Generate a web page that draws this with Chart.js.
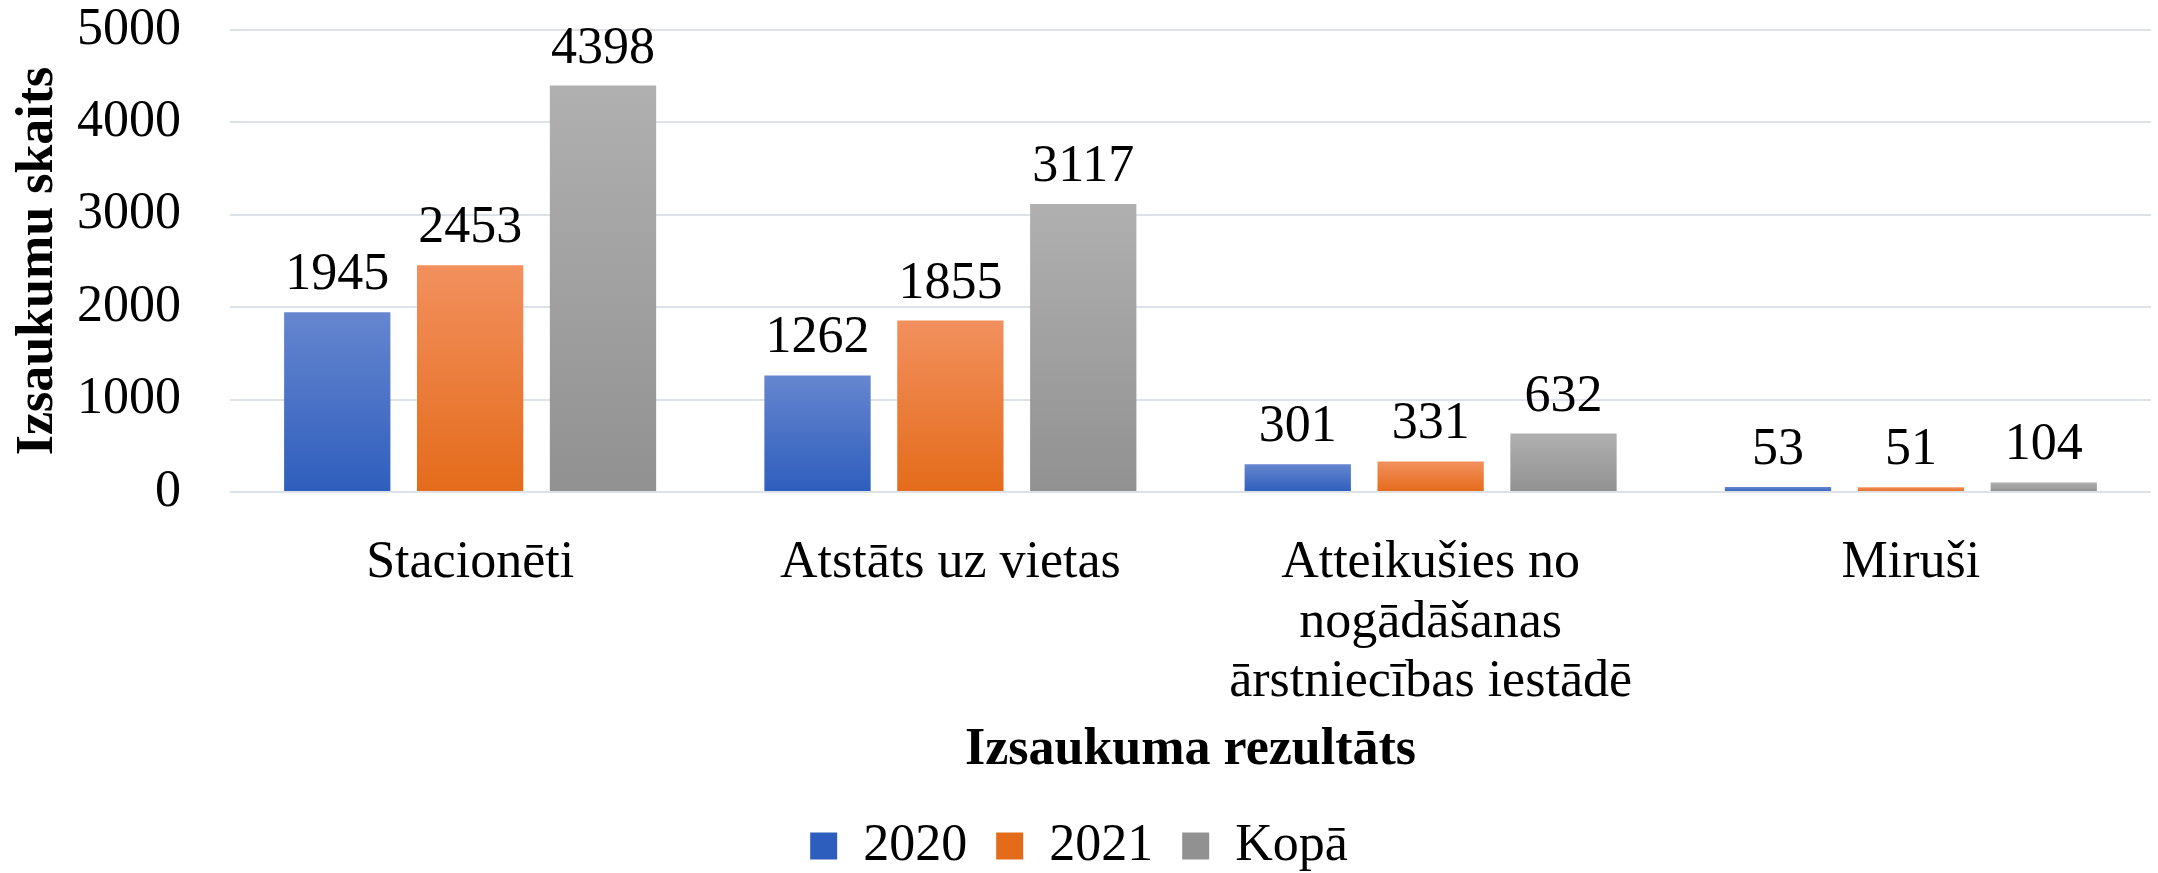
<!DOCTYPE html>
<html>
<head>
<meta charset="utf-8">
<script src="https://cdn.jsdelivr.net/npm/chart.js@4/dist/chart.umd.min.js"></script>
<style>
  html, body { margin: 0; padding: 0; background: #ffffff; }
  #wrap { width: 2158px; height: 873px; position: relative; }
</style>
</head>
<body>
<div id="wrap"><canvas id="c"></canvas></div>
<script>
const categories = [
  'Stacionēti',
  'Atstāts uz vietas',
  ['Atteikušies no', 'nogādāšanas', 'ārstniecības iestādē'],
  'Miruši'
];
const seriesNames = ['2020', '2021', 'Kopā'];
const values2020 = [1945, 1262, 301, 53];
const values2021 = [2453, 1855, 331, 51];
const valuesTotal = [4398, 3117, 632, 104];
const yTicks = [0, 1000, 2000, 3000, 4000, 5000];

const palettes = [
  { top: '#6686cf', bottom: '#2e5ebd', mid: '#4472c4' },
  { top: '#f2905e', bottom: '#e46b1a', mid: '#ed7d31' },
  { top: '#b0b0b0', bottom: '#919191', mid: '#a5a5a5' }
];

function barFill(p) {
  return (c) => {
    if (c.type !== 'data' || !c.chart.chartArea) return p.mid;
    const ys = c.chart.scales.y;
    if (!ys) return p.mid;
    const t = ys.getPixelForValue(c.raw);
    const b = ys.getPixelForValue(0);
    if (!isFinite(t) || !isFinite(b) || t === b) return p.mid;
    const g = c.chart.ctx.createLinearGradient(0, t, 0, b);
    g.addColorStop(0, p.top);
    g.addColorStop(1, p.bottom);
    return g;
  };
}

const FONT = "'Liberation Serif', 'Times New Roman', serif";

const dataLabels = {
  id: 'dataLabels',
  afterDatasetsDraw(chart) {
    const ctx = chart.ctx;
    ctx.save();
    ctx.font = '52px ' + FONT;
    ctx.fillStyle = '#000000';
    ctx.textAlign = 'center';
    ctx.textBaseline = 'alphabetic';
    chart.data.datasets.forEach((ds, di) => {
      const meta = chart.getDatasetMeta(di);
      meta.data.forEach((bar, i) => {
        ctx.fillText(String(ds.data[i]), bar.x, bar.y - 23);
      });
    });
    ctx.restore();
  }
};

const legendGradients = {
  id: 'legendGradients',
  afterLayout(chart) {
    const lg = chart.legend;
    if (!lg || !lg.legendItems) return;
    const pad = lg.options.labels.padding;
    const bh = lg.options.labels.boxHeight;
    const ih = Math.max(lg.options.labels.font.size || 52, bh);
    const y0 = lg.top + pad + (ih - bh) / 2;
    const y1 = y0 + bh;
    lg.legendItems.forEach((it, i) => {
      const p = palettes[i];
      const g = chart.ctx.createLinearGradient(0, y0, 0, y1);
      g.addColorStop(0, p.top);
      g.addColorStop(1, p.bottom);
      it.fillStyle = g;
      it.lineWidth = 0;
      it.strokeStyle = 'rgba(0,0,0,0)';
    });
  }
};

const allValues = [values2020, values2021, valuesTotal];

new Chart(document.getElementById('c'), {
  type: 'bar',
  data: {
    labels: categories,
    datasets: seriesNames.map((name, i) => ({
      label: name,
      data: allValues[i],
      backgroundColor: barFill(palettes[i]),
      borderWidth: 0,
      categoryPercentage: 0.83,
      barPercentage: 0.8
    }))
  },
  options: {
    responsive: true,
    maintainAspectRatio: false,
    animation: false,
    layout: { padding: { left: 7, right: 7, top: 0, bottom: -9 } },
    plugins: {
      tooltip: { enabled: false },
      legend: {
        position: 'bottom',
        labels: {
          boxWidth: 27,
          boxHeight: 27,
          padding: 29,
          color: '#000000',
          font: { family: FONT, size: 52 }
        }
      }
    },
    scales: {
      x: {
        grid: { display: false, drawTicks: false },
        border: { display: false },
        afterFit(scale) {
          scale.height = 299;
          scale.paddingLeft = 0;
          scale.paddingRight = 0;
        },
        ticks: {
          color: '#000000',
          padding: 42,
          maxRotation: 0,
          autoSkip: false,
          font: { family: FONT, size: 52, lineHeight: 1.14 }
        },
        title: {
          display: true,
          text: 'Izsaukuma rezultāts',
          color: '#000000',
          padding: { top: 10, bottom: 9 },
          font: { family: FONT, size: 52, weight: 'bold', lineHeight: 1.2 }
        }
      },
      y: {
        min: 0,
        max: 5000,
        afterBuildTicks(axis) { axis.ticks = yTicks.map(v => ({ value: v })); },
        afterFit(scale) {
          scale.width = 223;
          scale.paddingTop = 30;
          scale.paddingBottom = 0;
        },
        grid: { color: '#dde1e8', lineWidth: 2, drawTicks: false },
        border: { display: false },
        ticks: {
          color: '#000000',
          padding: 49,
          callback: (v) => String(v),
          font: { family: FONT, size: 52, lineHeight: 1.2 }
        },
        title: {
          display: true,
          text: 'Izsaukumu skaits',
          color: '#000000',
          padding: { top: 0, bottom: 8 },
          font: { family: FONT, size: 52, weight: 'bold', lineHeight: 1.2 }
        }
      }
    }
  },
  plugins: [dataLabels, legendGradients]
});
</script>
</body>
</html>
